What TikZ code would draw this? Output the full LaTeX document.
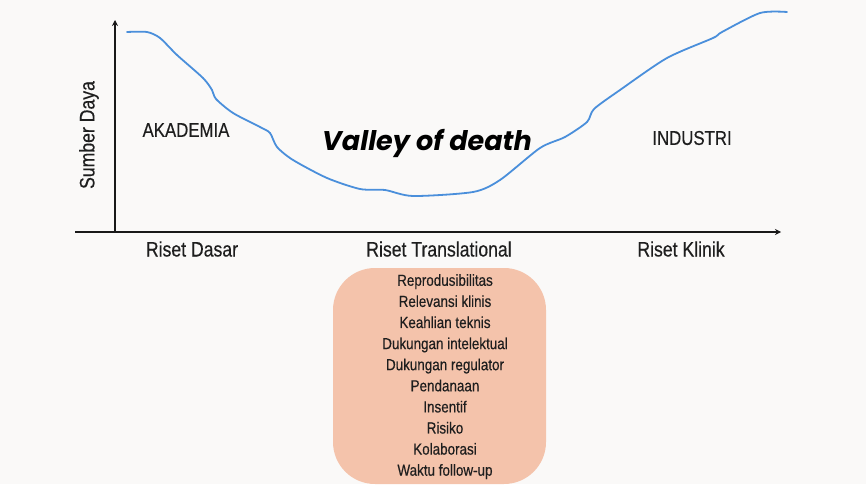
\documentclass[tikz,border=0pt]{standalone}
\usepackage{fontspec}
\setmainfont[FakeStretch=0.84,FakeBold=0.35]{Liberation Sans}
\newfontfamily\titlefont{Poppins}
\usetikzlibrary{arrows.meta}
\definecolor{bgc}{HTML}{FAF9F8}
\definecolor{curvec}{HTML}{4A8FDB}
\definecolor{boxc}{HTML}{F4C3AB}
\definecolor{txtc}{HTML}{1E1E1E}
\tikzset{
  axis/.style={line width=1.6pt, draw=black!90, -{Stealth[length=6pt,width=6pt]}},
  lbl/.style={font=\fontsize{21}{23}\selectfont, text=txtc, inner sep=0pt},
  region/.style={font=\fontsize{20}{22}\selectfont, text=txtc, inner sep=0pt},
  itemtxt/.style={font=\fontsize{16}{21.1}\selectfont, text=txtc, align=center, inner sep=0pt},
}
\begin{document}
\begin{tikzpicture}[x=1pt,y=-1pt]
\fill[bgc] (0,0) rectangle (866,484);
\useasboundingbox (0,0) rectangle (866,484);
% axes
\coordinate (o) at (115,232);
\coordinate (ytop) at (115,20);
\coordinate (xl) at (75,232);
\coordinate (xr) at (781,232);
\draw[axis] (o) -- (ytop);
\draw[axis] (xl) -- (xr);
% curve
\draw[curvec, line width=1.8pt, line cap=round] plot[smooth, tension=0.45] coordinates {
 (127,32) (147,32) (160,38) (177,55) (203,78) (212,90) (216,99) (233,113) (260,127) (270,133) (277,147) (293,160) (327,178) (360,189) (385,190) (413,196) (473,192) (500,180) (540,148) (565,137) (587,122) (594,109) (620,90) (667,58) (713,38) (722,32) (760,13) (787,12)};
% texts
\node[lbl, rotate=90] (ylab) at (89,135) {Sumber Daya};
\node[region] (akad) at (186,130) {AKADEMIA};
\node[region] (ind) at (692,138) {INDUSTRI};
\node[inner sep=0pt, text=black] (valley) at (427,143) {\titlefont\fontsize{27}{29}\selectfont\bfseries\itshape Valley of death};
\node[lbl] (rd) at (192,249) {Riset Dasar};
\node[lbl] (rt) at (439,249) {Riset Translational};
\node[lbl] (rk) at (681,249) {Riset Klinik};
% box
\fill[boxc, rounded corners=42pt] (333,268) rectangle (546,484);
\node[itemtxt, anchor=north] (items) at (445,274) {Reprodusibilitas\\Relevansi klinis\\Keahlian teknis\\Dukungan intelektual\\Dukungan regulator\\Pendanaan\\Insentif\\Risiko\\Kolaborasi\\Waktu follow-up};
\end{tikzpicture}
\end{document}
